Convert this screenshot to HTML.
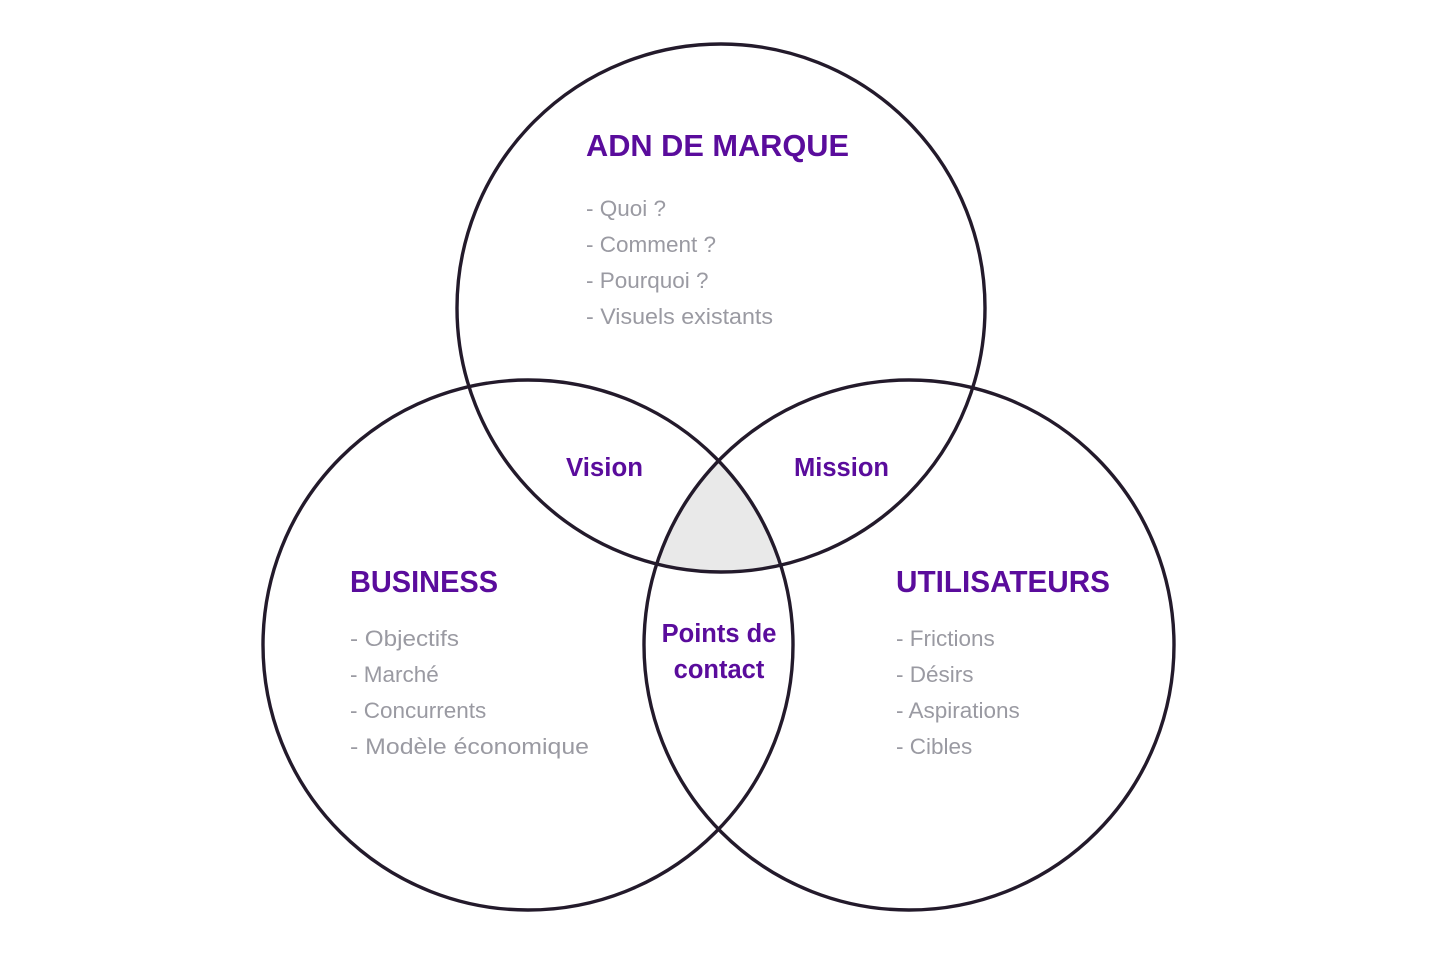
<!DOCTYPE html>
<html><head><meta charset="utf-8"><style>
html,body{margin:0;padding:0;background:#fff}
svg{display:block}
.h{font-family:"Liberation Sans",sans-serif;font-weight:bold;fill:#5a0c9c;font-size:31px}
.m{font-family:"Liberation Sans",sans-serif;font-weight:bold;fill:#5a0c9c;font-size:25.5px}
.i{font-family:"Liberation Sans",sans-serif;fill:#9a9aa2;font-size:22.5px}
</style></head><body>
<svg width="1436" height="956" viewBox="0 0 1436 956" xmlns="http://www.w3.org/2000/svg">
<defs>
<clipPath id="a"><circle cx="721" cy="308" r="265"/></clipPath>
<clipPath id="b"><circle cx="528" cy="645" r="265"/></clipPath>
</defs>
<g clip-path="url(#a)"><g clip-path="url(#b)"><circle cx="909" cy="645" r="265" fill="#e9e9e9"/></g></g>
<g fill="none" stroke="#231a2b" stroke-width="3.4">
<circle cx="721" cy="308" r="264"/>
<circle cx="528" cy="645" r="265"/>
<circle cx="909" cy="645" r="265"/>
</g>
<text class="h" x="586" y="156" textLength="263" lengthAdjust="spacingAndGlyphs">ADN DE MARQUE</text>
<text class="i" x="586" y="216">- Quoi ?</text>
<text class="i" x="586" y="252">- Comment ?</text>
<text class="i" x="586" y="288">- Pourquoi ?</text>
<text class="i" x="586" y="324" textLength="187" lengthAdjust="spacingAndGlyphs">- Visuels existants</text>
<text class="h" x="350" y="592" textLength="148" lengthAdjust="spacingAndGlyphs">BUSINESS</text>
<text class="i" x="350" y="646" textLength="109" lengthAdjust="spacingAndGlyphs">- Objectifs</text>
<text class="i" x="350" y="682">- Marché</text>
<text class="i" x="350" y="718">- Concurrents</text>
<text class="i" x="350" y="754" textLength="239" lengthAdjust="spacingAndGlyphs">- Modèle économique</text>
<text class="h" x="896" y="592" textLength="214" lengthAdjust="spacingAndGlyphs">UTILISATEURS</text>
<text class="i" x="896" y="646">- Frictions</text>
<text class="i" x="896" y="682">- Désirs</text>
<text class="i" x="896" y="718">- Aspirations</text>
<text class="i" x="896" y="754">- Cibles</text>
<text class="m" x="566" y="476" textLength="77" lengthAdjust="spacingAndGlyphs">Vision</text>
<text class="m" x="794" y="476" textLength="95" lengthAdjust="spacingAndGlyphs">Mission</text>
<text class="m" x="719" y="642" text-anchor="middle">Points de</text>
<text class="m" x="719" y="678" text-anchor="middle">contact</text>
</svg>
</body></html>
